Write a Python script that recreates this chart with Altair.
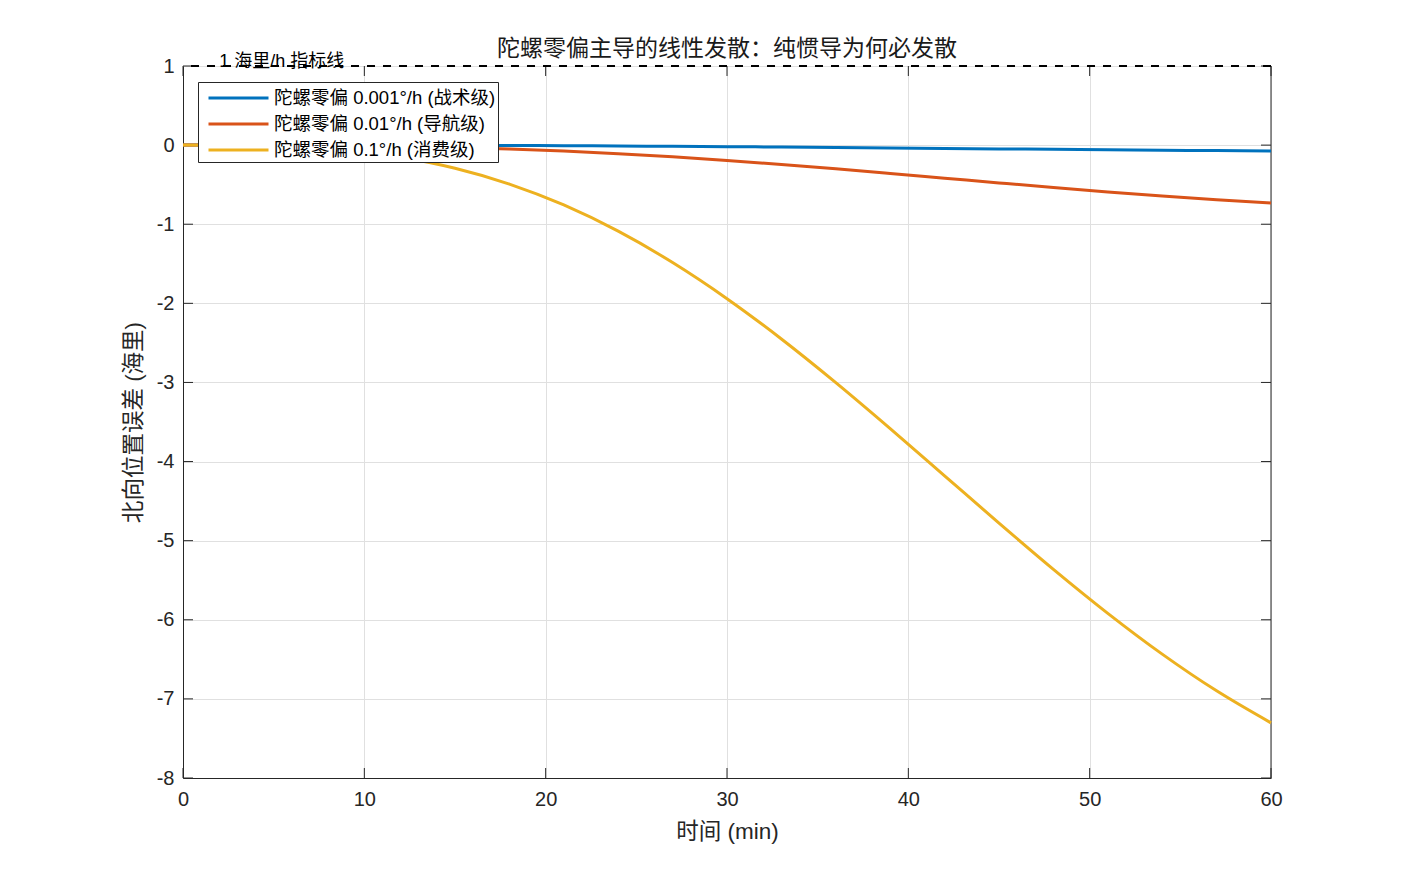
# Gyro bias drift: north position error of pure INS, three gyro grades
import altair as alt
import pandas as pd

# ------------------------------------------------------------
# data
# ------------------------------------------------------------
t_min = [0, 3, 6, 9, 12, 15, 18, 21, 24, 27, 30, 33, 36, 39, 42, 45, 48, 51, 54, 57, 60]

err_tactical = [0, 0, -0.0002, -0.0007, -0.0015, -0.0029, -0.0049, -0.0076, -0.0109, -0.0148,
                -0.0194, -0.0245, -0.0300, -0.0358, -0.0418, -0.0478, -0.0536, -0.0592,
                -0.0643, -0.0690, -0.0730]
err_nav = [0, -0.0003, -0.0020, -0.0066, -0.0153, -0.0293, -0.0492, -0.0757, -0.1088, -0.1484,
           -0.1941, -0.2450, -0.3002, -0.3583, -0.4180, -0.4778, -0.5362, -0.5918,
           -0.6434, -0.6898, -0.7303]
err_consumer = [0, -0.0025, -0.0198, -0.0659, -0.1533, -0.2928, -0.4923, -0.7568, -1.0879,
                -1.4844, -1.9409, -2.4502, -3.0018, -3.5830, -4.1800, -4.7780, -5.3621,
                -5.9184, -6.4342, -6.8983, -7.3030]

series_names = ["陀螺零偏 0.001°/h (战术级)",
                "陀螺零偏 0.01°/h (导航级)",
                "陀螺零偏 0.1°/h (消费级)"]
series_colors = ["#0072BD", "#D95319", "#EDB120"]

tick_x = [0, 10, 20, 30, 40, 50, 60]
tick_y = [1, 0, -1, -2, -3, -4, -5, -6, -7, -8]

ref_level = [1]
ref_x = [2]
ref_text = ["1 海里/h 指标线"]

title_text = "陀螺零偏主导的线性发散：纯惯导为何必发散"
x_title = "时间 (min)"
y_title = "北向位置误差 (海里)"

# ------------------------------------------------------------
# tables
# ------------------------------------------------------------
rows = []
for name, vals in zip(series_names, [err_tactical, err_nav, err_consumer]):
    for t, v in zip(t_min, vals):
        rows.append({"t": t, "err": v, "series": name})
df = pd.DataFrame(rows)

ticks_x_df = pd.DataFrame({"x": tick_x})
ticks_y_df = pd.DataFrame({"y": tick_y})
ref_df = pd.DataFrame({"x": ref_x, "y": ref_level, "label": ref_text})

W, H = 1088, 712
FONT = "Liberation Sans, Noto Sans CJK SC, sans-serif"
AX = "#262626"

x_scale = alt.Scale(domain=[0, 60], nice=False, zero=False)
y_scale = alt.Scale(domain=[-8, 1], nice=False, zero=False)

color_scale = alt.Scale(domain=series_names, range=series_colors)

axis_common = dict(ticks=False, grid=True, gridColor="#E0E0E0", domainColor=AX,
                   labelColor=AX, labelFontSize=20, labelFont=FONT, labelFlush=False,
                   labelExpr="'' + datum.value",
                   titleFontSize=22.5, titleColor=AX, titleFontWeight="normal", titleFont=FONT)

lines = alt.Chart(df).mark_line(strokeWidth=3, interpolate="monotone").encode(
    x=alt.X("t:Q", scale=x_scale, title=x_title,
            axis=alt.Axis(values=tick_x, labelPadding=11, titlePadding=11, **axis_common)),
    y=alt.Y("err:Q", scale=y_scale, title=y_title,
            axis=alt.Axis(values=tick_y, labelPadding=9, titlePadding=11, **axis_common)),
    color=alt.Color("series:N", scale=color_scale, sort=series_names,
                    legend=alt.Legend(
                        title=None, orient="none", legendX=15, legendY=16,
                        padding=2, fillColor="white", strokeColor=AX,
                        labelFontSize=18.5, labelFont=FONT, labelColor="black",
                        symbolType="M-0.44,0H4.36", symbolSize=625, symbolStrokeWidth=3,
                        labelOffset=46, rowPadding=2, labelLimit=400)),
)

# reference dashed line at 1 nmi
ref_line = alt.Chart(ref_df).mark_rule(color="black", strokeWidth=2, strokeDash=[8, 8]).encode(
    y=alt.Y("y:Q", scale=y_scale)
)
ref_label = alt.Chart(ref_df).mark_text(
    align="left", baseline="middle", dy=-4, fontSize=18, font=FONT, color="black"
).encode(
    x=alt.X("x:Q", scale=x_scale),
    y=alt.Y("y:Q", scale=y_scale),
    text="label:N",
)

# inward ticks (MATLAB style) and right border
tick_style = dict(color=AX, strokeWidth=1)
tb = alt.Chart(ticks_x_df).mark_rule(**tick_style).encode(
    x=alt.X("x:Q", scale=x_scale), y=alt.value(H), y2=alt.value(H - 10))
tt = alt.Chart(ticks_x_df).mark_rule(**tick_style).encode(
    x=alt.X("x:Q", scale=x_scale), y=alt.value(0), y2=alt.value(10))
tl = alt.Chart(ticks_y_df).mark_rule(**tick_style).encode(
    y=alt.Y("y:Q", scale=y_scale), x=alt.value(0), x2=alt.value(10))
tr = alt.Chart(ticks_y_df).mark_rule(**tick_style).encode(
    y=alt.Y("y:Q", scale=y_scale), x=alt.value(W), x2=alt.value(W - 10))
right_border = alt.Chart(ticks_x_df.head(1)).mark_rule(**tick_style).encode(
    x=alt.value(W), y=alt.value(0), y2=alt.value(H))

chart = alt.layer(tb, tt, tl, tr, right_border, lines, ref_line, ref_label).properties(
    width=W, height=H,
    title=alt.TitleParams(text=title_text, fontSize=23, font=FONT, fontWeight="normal",
                          color="#1a1a1a", anchor="middle", frame="group",
                          baseline="bottom", offset=7, dy=38),
    autosize=alt.AutoSizeParams(type="none"),
    padding={"left": 175, "top": 58, "right": 100, "bottom": 85},
).configure_view(stroke=None).configure(font=FONT)

chart.save("out.html", embed_options={"renderer": "svg", "actions": False})
